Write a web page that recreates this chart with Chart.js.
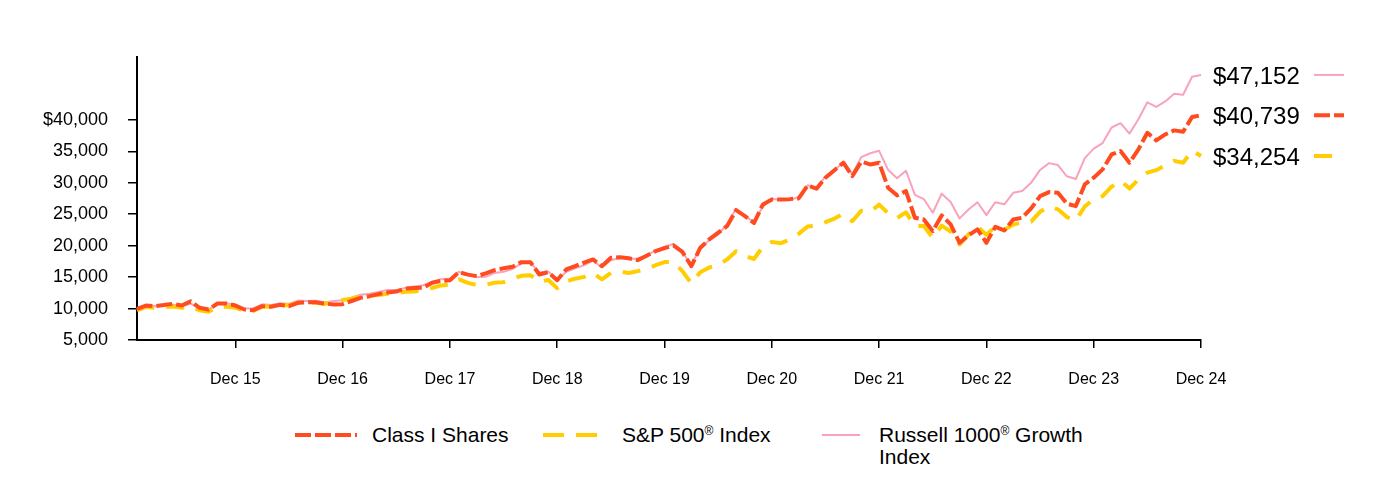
<!DOCTYPE html>
<html>
<head>
<meta charset="utf-8">
<script src="https://cdn.jsdelivr.net/npm/chart.js@4.4.1/dist/chart.umd.min.js"></script>
<style>
  body { margin: 0; background: #fff; font-family: "Liberation Sans", Arial, sans-serif; }
  #wrap { position: relative; width: 1384px; height: 477px; overflow: hidden; }
  #growth { position: absolute; left: 0; top: 0; }
  .key { position: absolute; font-size: 21px; line-height: 22px; color: #000; white-space: nowrap; }
  .sample { position: absolute; }
  sup { font-size: 12px; vertical-align: 7px; line-height: 0; }
</style>
</head>
<body>
<div id="wrap">
  <canvas id="growth" width="1384" height="400"></canvas>

  <svg class="sample" style="left:295px; top:431px" width="62" height="8">
    <line x1="0" y1="4" x2="62" y2="4" stroke="#FF4B1F" stroke-width="4" stroke-dasharray="16 4"/>
  </svg>
  <div class="key" style="left:372px; top:424px">Class I Shares</div>

  <svg class="sample" style="left:543px; top:431px" width="56" height="8">
    <line x1="0" y1="4" x2="56" y2="4" stroke="#FFCD00" stroke-width="4" stroke-dasharray="21 12"/>
  </svg>
  <div class="key" style="left:622px; top:424px">S&amp;P 500<sup>®</sup> Index</div>

  <svg class="sample" style="left:822px; top:433px" width="38" height="4">
    <line x1="0" y1="2" x2="38" y2="2" stroke="#F9A3BA" stroke-width="2"/>
  </svg>
  <div class="key" style="left:879px; top:424px">Russell 1000<sup>®</sup> Growth<br>Index</div>
</div>

<script>
// month labels Jan 15 .. Dec 24
const monthNames = ['Jan', 'Feb', 'Mar', 'Apr', 'May', 'Jun', 'Jul', 'Aug', 'Sep', 'Oct', 'Nov', 'Dec'];
const years = [15, 16, 17, 18, 19, 20, 21, 22, 23, 24];
const labels = [];
years.forEach(y => monthNames.forEach(m => labels.push(m + ' ' + y)));

const yTicks = [5000, 10000, 15000, 20000, 25000, 30000, 35000, 40000];

const classI = [
  9950, 10480, 10380, 10550, 10760, 10490, 11150, 10120, 9850, 10800, 10800, 10490,
  9850, 9740, 10380, 10280, 10600, 10380, 10920, 11000, 11000, 10800, 10650, 10700,
  11200, 11710, 11970, 12300, 12550, 12700, 13190, 13250, 13300, 14100, 14400, 14510,
  15790, 15400, 15150, 15600, 16110, 16400, 16650, 17380, 17380, 15420, 15790, 14510,
  16220, 16750, 17300, 17810, 16740, 18080, 18170, 18000, 17700, 18400, 19130, 19600,
  20030, 19000, 16740, 19670, 21000, 22060, 23110, 25650, 24700, 23600, 26560, 27350,
  27350, 27400, 27510, 29580, 29060, 30810, 32000, 33190, 31060, 33350, 32920, 33190,
  29220, 28000, 28670, 24440, 24170, 22310, 24810, 23380, 20460, 21630, 22580, 20460,
  23000, 22420, 24170, 24440, 25920, 27880, 28520, 28420, 26670, 26290, 29740, 30810,
  32130, 34510, 35040, 33190, 35310, 37960, 36740, 37690, 38330, 38120, 40450, 40739
];

const sp500 = [
  9700, 10258, 10096, 10193, 10324, 10124, 10337, 9713, 9473, 10273, 10304, 10141,
  9638, 9625, 10278, 10318, 10504, 10531, 10920, 10935, 10937, 10738, 11136, 11356,
  11572, 12031, 12045, 12169, 12341, 12417, 12673, 12712, 12974, 13276, 13684, 13836,
  14629, 14089, 13731, 13783, 14115, 14203, 14731, 15211, 15298, 14251, 14542, 13229,
  14289, 14748, 15034, 15643, 14650, 15683, 15909, 15658, 15951, 16297, 16889, 17399,
  17392, 15960, 13989, 15783, 16534, 16863, 17814, 19095, 18369, 17880, 19838, 20600,
  20392, 20955, 21873, 23041, 23202, 23743, 24308, 25047, 23882, 25556, 25380, 26517,
  25146, 24394, 25299, 23093, 23135, 21226, 23183, 22237, 20189, 21825, 23045, 21717,
  23081, 22518, 23344, 23708, 23810, 25384, 26199, 25782, 24553, 24037, 26232, 27423,
  27884, 29373, 30319, 29082, 30524, 31620, 32006, 32784, 33485, 33180, 35128, 34254
];

const russell = [
  9848, 10511, 10392, 10446, 10598, 10412, 10766, 10084, 9837, 10757, 10790, 10611,
  10019, 10005, 10677, 10580, 10792, 10751, 11265, 11210, 11249, 10978, 11207, 11338,
  11720, 12210, 12352, 12631, 12955, 12921, 13261, 13504, 13710, 14242, 14671, 14785,
  15832, 15413, 14990, 15041, 15664, 15839, 16295, 17205, 17294, 15738, 15905, 14537,
  15844, 16408, 16876, 17655, 16541, 17678, 18078, 17933, 17930, 18436, 19247, 19828,
  20268, 18888, 17029, 19549, 20861, 21768, 23447, 25869, 24651, 23812, 26241, 27448,
  27245, 27250, 27716, 29601, 29192, 31022, 32046, 33235, 31360, 34076, 34696, 35081,
  32071, 30718, 31919, 28063, 27412, 25241, 28270, 26953, 24333, 25754, 26908, 24847,
  26917, 26580, 28399, 28683, 29991, 32042, 33122, 32821, 31035, 30594, 33923, 35422,
  36315, 38791, 39474, 37820, 40089, 42791, 42059, 42934, 44153, 44007, 46863, 47152
];

Chart.defaults.font.family = '"Liberation Sans", Arial, sans-serif';
Chart.defaults.color = '#000';

// ending values printed to the right of the plot, with a short line sample
const endLabels = {
    id: 'endLabels',
    afterDatasetsDraw(chart) {
        const ctx = chart.ctx;
        const yScale = chart.scales.y;
        ctx.save();
        ctx.font = '24px "Liberation Sans", Arial, sans-serif';
        ctx.fillStyle = '#000';
        ctx.textAlign = 'left';
        ctx.textBaseline = 'middle';
        chart.data.datasets.forEach(ds => {
            const last = ds.data[ds.data.length - 1];
            const y = yScale.getPixelForValue(last);
            ctx.fillText('$' + last.toLocaleString('en-US'), 1213, y + 2);
            ctx.beginPath();
            ctx.setLineDash(ds.borderDash || []);
            ctx.lineWidth = ds.borderWidth;
            ctx.strokeStyle = ds.borderColor;
            ctx.moveTo(1314, y);
            ctx.lineTo(1344, y);
            ctx.stroke();
        });
        ctx.restore();
    }
};

const ctx = document.getElementById('growth').getContext('2d');
new Chart(ctx, {
    type: 'line',
    data: {
        labels: labels,
        datasets: [
            {
                label: 'Class I Shares',
                data: classI,
                borderColor: '#FF4B1F',
                borderWidth: 4,
                borderDash: [16, 4]
            },
            {
                label: 'S&P 500® Index',
                data: sp500,
                borderColor: '#FFCD00',
                borderWidth: 4,
                borderDash: [18, 12]
            },
            {
                label: 'Russell 1000® Growth Index',
                data: russell,
                borderColor: '#F9A3BA',
                borderWidth: 2
            }
        ]
    },
    options: {
        responsive: false,
        animation: false,
        devicePixelRatio: 1,
        layout: { padding: { left: 0, right: 183, top: 57, bottom: 0 } },
        elements: {
            point: { radius: 0 },
            line: { tension: 0, fill: false, borderJoinStyle: 'round' }
        },
        plugins: {
            legend: { display: false },
            tooltip: { enabled: false }
        },
        scales: {
            x: {
                type: 'category',
                offset: false,
                afterBuildTicks: axis => {
                    axis.ticks = axis.ticks.filter(t => t.value % 12 === 11);
                },
                afterFit: axis => { axis.height = 60; },
                ticks: {
                    autoSkip: false,
                    maxRotation: 0,
                    padding: 22,
                    font: { size: 16 },
                    callback: function (v) { return this.getLabelForValue(v); }
                },
                grid: { drawOnChartArea: false, tickLength: 8, color: '#000', lineWidth: 1.5 },
                border: { display: true, color: '#000', width: 2 }
            },
            y: {
                min: 5000,
                max: 50000,
                afterBuildTicks: axis => {
                    axis.ticks = yTicks.map(v => ({ value: v }));
                },
                afterFit: axis => { axis.width = 137; },
                ticks: {
                    padding: 20,
                    font: { size: 18 },
                    callback: v => (v === 40000 ? '$' : '') + v.toLocaleString('en-US')
                },
                grid: { drawOnChartArea: false, tickLength: 9, color: '#000', lineWidth: 1.5 },
                border: { display: true, color: '#000', width: 2 }
            }
        }
    },
    plugins: [endLabels]
});
</script>
</body>
</html>
